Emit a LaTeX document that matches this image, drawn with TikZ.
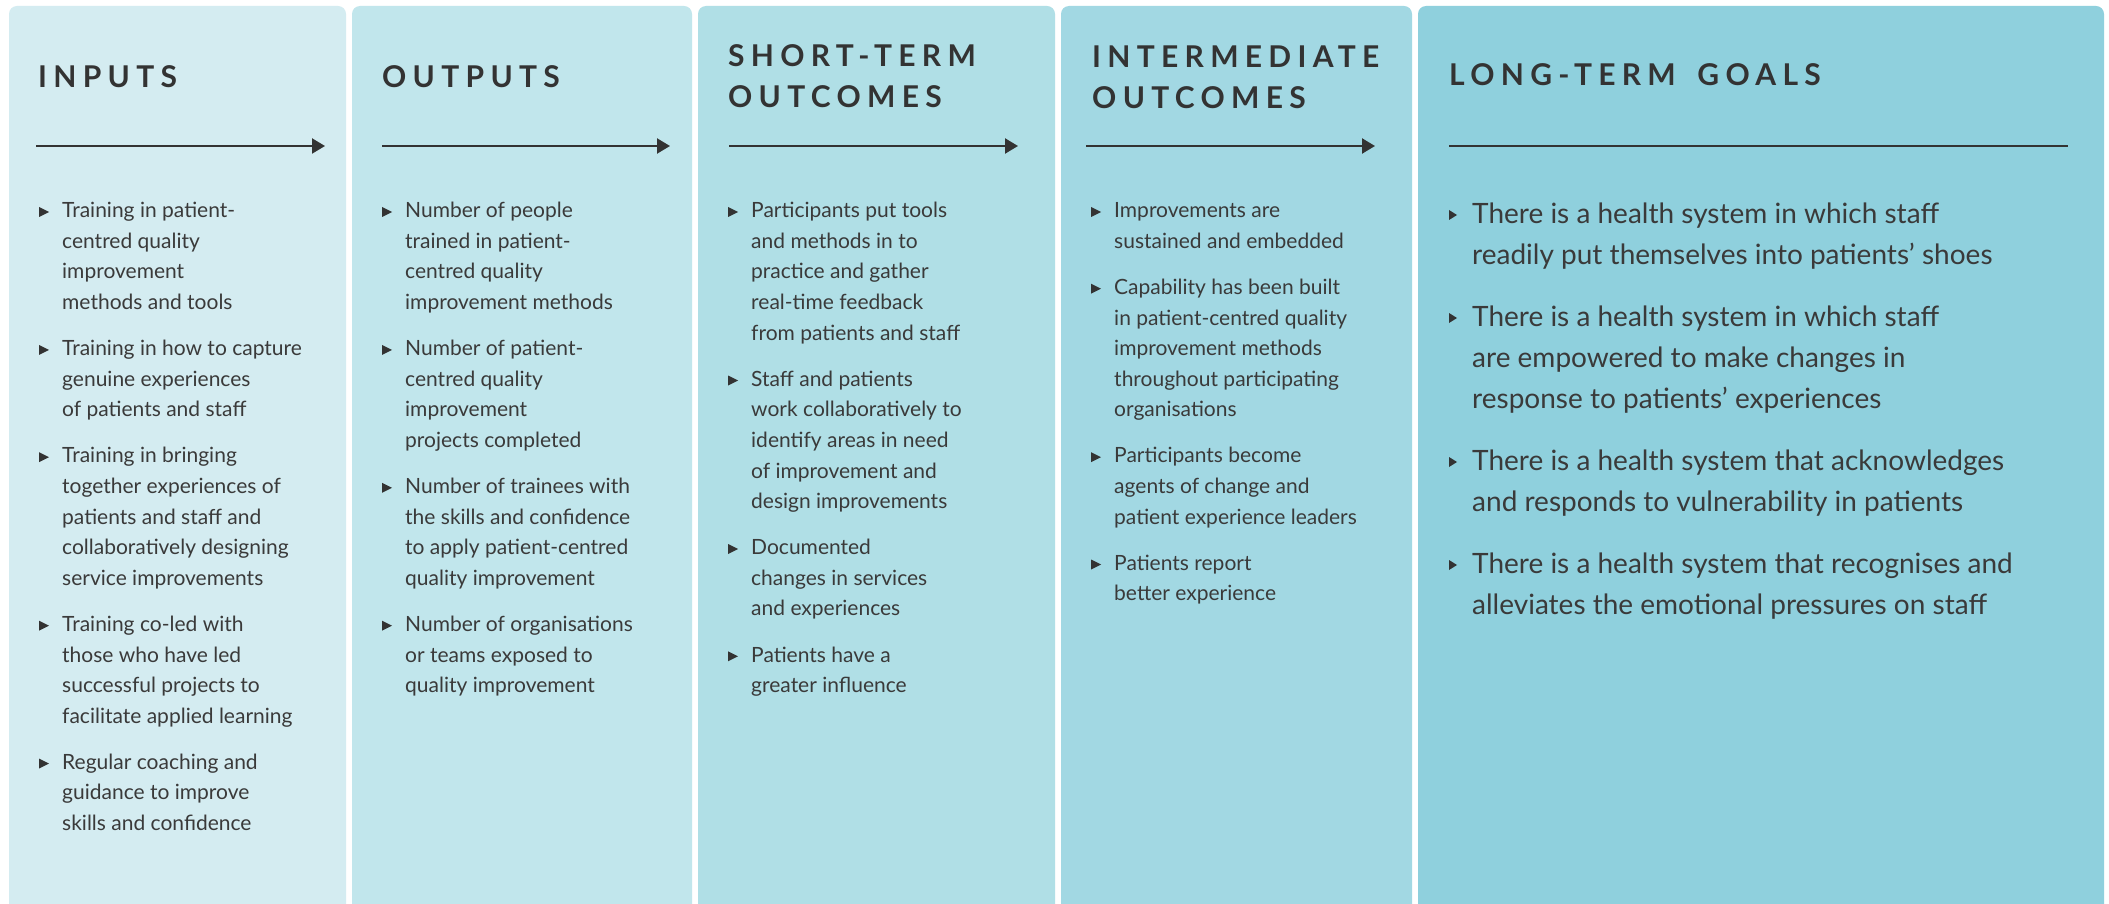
\documentclass[tikz,border=0pt]{standalone}
\usepackage{fontspec}
\setmainfont{Lato}
\newfontfamily\headfont[LetterSpace=21]{Lato}
\usetikzlibrary{arrows.meta}

\definecolor{colA}{HTML}{D4ECF1}
\definecolor{colB}{HTML}{C1E6EC}
\definecolor{colC}{HTML}{B0DFE6}
\definecolor{colD}{HTML}{A2D8E3}
\definecolor{colE}{HTML}{8FD0DD}
\definecolor{ink}{HTML}{333333}
\definecolor{txt}{HTML}{3A3A3A}

% every text block hangs from a fixed first-line strut, so that its first
% baseline lies exactly \leadh below the node's north edge
\newcommand\leadh{40}
\newcommand\lstrut{\rule{0pt}{40pt}}

\tikzset{
  panel/.style={rounded corners=8pt, draw=none},
  head/.style={anchor=north west, inner sep=0pt, align=left, text=ink,
    font={\headfont\bfseries\fontsize{30}{41}\selectfont}},
  body/.style={anchor=north west, inner sep=0pt, align=left, text=txt,
    font={\fontsize{21}{30.6}\selectfont}},
  bigbody/.style={anchor=north west, inner sep=0pt, align=left, text=txt,
    font={\fontsize{28}{41}\selectfont}},
  flow/.style={draw=ink, line width=2.2pt, -{Triangle[length=13pt,width=15pt]}},
  rule/.style={draw=ink, line width=2.2pt}
}

% a heading: name, x, first baseline, text
\newcommand\heading[4]{%
  \node[head] (#1) at (#2,#3-\leadh) {\lstrut#4};
}
% one bulleted entry: name, x, first baseline, text
\newcommand\bitem[4]{%
  \node[body] (#1) at (#2,#3-\leadh) {\lstrut#4};
  \fill[ink] ([shift={(-23,\leadh-10.5)}]#1.north west) -- ++(0,10) -- ++(10,-5) -- cycle;
}
\newcommand\bigitem[4]{%
  \node[bigbody] (#1) at (#2,#3-\leadh) {\lstrut#4};
  \fill[ink] ([shift={(-23,\leadh-13)}]#1.north west) -- ++(0,10) -- ++(8,-5) -- cycle;
}

\begin{document}
\begin{tikzpicture}[x=1pt, y=-1pt]
\useasboundingbox (0,0) rectangle (2109,904);
\clip (0,0) rectangle (2109,904);
\fill[white] (0,0) rectangle (2109,904);

% column panels
\fill[panel, colA] (9,6) rectangle (346,940);
\fill[panel, colB] (352,6) rectangle (692,940);
\fill[panel, colC] (698,6) rectangle (1055,940);
\fill[panel, colD] (1061,6) rectangle (1412,940);
\fill[panel, colE] (1418,6) rectangle (2104,940);

% headings
\heading{h1}{38}{87}{INPUTS}
\heading{h2}{382}{87}{OUTPUTS}
\heading{h3}{728}{66}{SHORT-TERM\\OUTCOMES}
\heading{h4}{1092}{67}{INTERMEDIATE\\OUTCOMES}
\heading{h5}{1449}{85}{LONG-TERM\hspace{8pt} GOALS}

% flow arrows under the headings
\coordinate (a1s) at (36,146);   \coordinate (a1e) at (325,146);
\coordinate (a2s) at (382,146);  \coordinate (a2e) at (670,146);
\coordinate (a3s) at (729,146);  \coordinate (a3e) at (1018,146);
\coordinate (a4s) at (1086,146); \coordinate (a4e) at (1375,146);
\coordinate (a5s) at (1449,146); \coordinate (a5e) at (2068,146);
\draw[flow] (a1s) -- (a1e);
\draw[flow] (a2s) -- (a2e);
\draw[flow] (a3s) -- (a3e);
\draw[flow] (a4s) -- (a4e);
\draw[rule] (a5s) -- (a5e);

% inputs
\bitem{in1}{62}{217.5}{Training in patient-\\centred quality\\improvement\\methods and tools}
\bitem{in2}{62}{355.4}{Training in how to capture\\genuine experiences\\of patients and staff}
\bitem{in3}{62}{462.7}{Training in bringing\\together experiences of\\patients and staff and\\collaboratively designing\\service improvements}
\bitem{in4}{62}{631.2}{Training co-led with\\those who have led\\successful projects to\\facilitate applied learning}
\bitem{in5}{62}{769.1}{Regular coaching and\\guidance to improve\\skills and confidence}

% outputs
\bitem{out1}{405}{217.5}{Number of people\\trained in patient-\\centred quality\\improvement methods}
\bitem{out2}{405}{355.4}{Number of patient-\\centred quality\\improvement\\projects completed}
\bitem{out3}{405}{493.3}{Number of trainees with\\the skills and confidence\\to apply patient-centred\\quality improvement}
\bitem{out4}{405}{631.2}{Number of organisations\\or teams exposed to\\quality improvement}

% short-term outcomes
\bitem{st1}{751}{217.5}{Participants put tools\\and methods in to\\practice and gather\\real-time feedback\\from patients and staff}
\bitem{st2}{751}{386.0}{Staff and patients\\work collaboratively to\\identify areas in need\\of improvement and\\design improvements}
\bitem{st3}{751}{554.5}{Documented\\changes in services\\and experiences}
\bitem{st4}{751}{661.8}{Patients have a\\greater influence}

% intermediate outcomes
\bitem{im1}{1114}{217.5}{Improvements are\\sustained and embedded}
\bitem{im2}{1114}{294.2}{Capability has been built\\in patient-centred quality\\improvement methods\\throughout participating\\organisations}
\bitem{im3}{1114}{462.7}{Participants become\\agents of change and\\patient experience leaders}
\bitem{im4}{1114}{570.0}{Patients report\\better experience}

% long-term goals
\bigitem{lt1}{1472}{223}{There is a health system in which staff\\readily put themselves into patients’ shoes}
\bigitem{lt2}{1472}{326}{There is a health system in which staff\\are empowered to make changes in\\response to patients’ experiences}
\bigitem{lt3}{1472}{470}{There is a health system that acknowledges\\and responds to vulnerability in patients}
\bigitem{lt4}{1472}{573}{There is a health system that recognises and\\alleviates the emotional pressures on staff}
\end{tikzpicture}
\end{document}
